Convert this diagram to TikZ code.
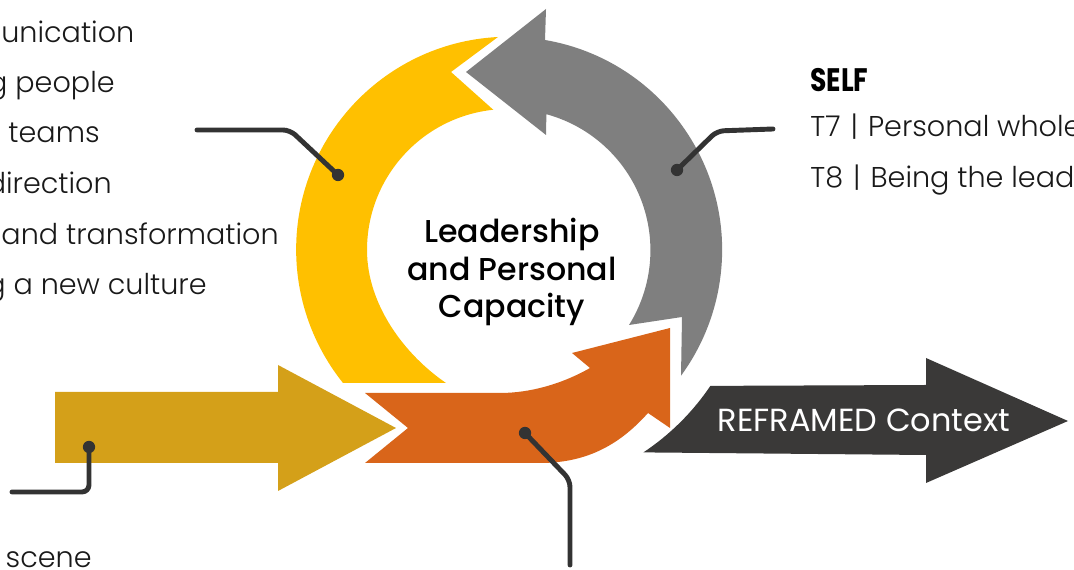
\documentclass[tikz,border=0pt]{standalone}
\usepackage{fontspec}
\setmainfont{Poppins}
\newfontfamily\lightfont{Poppins}[UprightFont={* Light}]
\newfontfamily\medfont{Poppins}[UprightFont={* Medium}]
\newfontfamily\heavyfont{Poppins}[UprightFont={* Bold}]
\usepackage{xcolor}
\usepackage{tikz}

\definecolor{cycyellow}{HTML}{FFC000}
\definecolor{cycgray}{HTML}{7F7F7F}
\definecolor{cycorange}{HTML}{D9651A}
\definecolor{cycgold}{HTML}{D4A019}
\definecolor{cycdark}{HTML}{3A3938}
\definecolor{leader}{HTML}{333333}

\tikzset{
	callout/.style={draw=leader, line width=2.8pt, line cap=round, line join=round, rounded corners=4pt},
	calldot/.style={circle, fill=leader, inner sep=0pt, minimum size=7pt},
	itemtext/.style={inner sep=0pt, text=black!90, font=\lightfont\fontsize{16.3}{20}\selectfont},
}

\begin{document}
\begin{tikzpicture}[x=0.02cm, y=0.02cm]
		\useasboundingbox (0,0) rectangle (1074,570);
		% 绘制黄色弧形
		\fill[cycyellow] (498,533) arc[start angle=93, end angle=218.7, radius=213]
			-- (446,187) .. controls (405,215) and (367,265) .. (367,320)
			arc[start angle=180, end angle=96, radius=141] -- (451,498) -- cycle;
		% 绘制灰色弧形箭头
		\fill[cycgray] (545,530) arc[start angle=80.3, end angle=-36.2, radius=213]
			-- (682,253) -- (629,245) arc[start angle=-32, end angle=74.8, radius=141]
			-- (546,435) -- (466,498) -- (546,561) -- cycle;
		% 绘制橙色箭头
		\fill[cycorange] (365,177) -- (500,177) .. controls (530,177) and (562,186) .. (590,202)
			-- (572,217) -- (670,242) -- (670,142) -- (648,157)
			.. controls (622,128) and (590,107) .. (540,107) -- (365,107) -- (408,142) -- cycle;
		% 绘制金色箭头
		\fill[cycgold] (55,178) -- (278,178) -- (278,205) -- (396,142) -- (278,79) -- (278,107) -- (55,107) -- cycle;
		% 绘制深色箭头
		\fill[cycdark] (643.4,117.6) arc[start angle=-56.4, end angle=-34, radius=243]
			-- (926,185) -- (926,212) -- (1068,149) -- (926,87) -- (926,115) -- cycle;
		\node[text=white, font=\fontsize{18.2}{21}\selectfont] (ctx) at (864,150) {REFRAMED Context};
		% 中心文字
		\node[align=center, inner sep=0pt, font=\medfont\fontsize{18}{21.5}\selectfont] (core) at (512,298)
			{Leadership\\and Personal\\Capacity};
		% 左侧文字
		\node[itemtext, anchor=base west] (t1) at (1,527) {unication};
		\node[itemtext, anchor=base east] (t2) at (115,477) {g people};
		\node[itemtext, anchor=base east] (t3) at (100,427) {g teams};
		\node[itemtext, anchor=base east] (t4) at (112,376) {direction};
		\node[itemtext, anchor=base east] (t5) at (279,325) {e and transformation};
		\node[itemtext, anchor=base east] (t6) at (207,275) {g a new culture};
		\node[itemtext, anchor=base east] (t9) at (92,2) {e scene};
		% 右侧文字
		\node[anchor=base west, inner sep=0pt, font=\heavyfont\fontsize{18.5}{20}\selectfont] (self) at (810,478)
			{\scalebox{0.82}[1]{SELF}};
		\node[itemtext, anchor=base west] (t7) at (810,433) {T7\hspace{0.35em}|\hspace{0.35em}Personal whole};
		\node[itemtext, anchor=base west] (t8) at (810,382) {T8\hspace{0.35em}|\hspace{0.35em}Being the lead};
		% 引线
		\node[calldot] (yd) at (338,395) {};
		\coordinate (yk) at (290,440);
		\coordinate (ye) at (197,440);
		\draw[callout] (yd.center) -- (yk) -- (ye);
		\node[calldot] (gd) at (677,400) {};
		\coordinate (gk) at (717,439);
		\coordinate (ge) at (773,441);
		\draw[callout] (gd.center) -- (gk) -- (ge);
		\node[calldot] (od) at (89,123) {};
		\coordinate (ok) at (89,78);
		\coordinate (oe) at (12,78);
		\draw[callout] (od.center) -- (ok) -- (oe);
		\node[calldot] (rd) at (525,137) {};
		\coordinate (rk) at (570,90);
		\coordinate (re) at (570,5);
		\draw[callout] (rd.center) -- (rk) -- (re);
\end{tikzpicture}
\end{document}
